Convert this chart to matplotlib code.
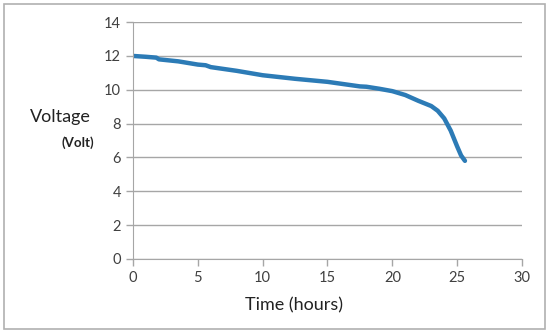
import matplotlib
matplotlib.use("Agg")
import matplotlib.pyplot as plt
from matplotlib.patches import Rectangle

# battery discharge readings
hours = [0, 1.0, 1.8, 2.0, 3.5, 5.0, 5.6, 6.0, 8.0, 10.0, 12.5, 15.0, 17.5,
         18.0, 19.0, 20.0, 21.0, 22.0, 23.0, 23.5, 24.0, 24.5, 25.0, 25.3, 25.6]
volts = [12.0, 11.95, 11.9, 11.8, 11.68, 11.49, 11.45, 11.34, 11.12, 10.86,
         10.65, 10.47, 10.2, 10.18, 10.06, 9.92, 9.69, 9.35, 9.04, 8.76,
         8.31, 7.59, 6.65, 6.12, 5.8]

x_ticks = [0, 5, 10, 15, 20, 25, 30]
y_ticks = [0, 2, 4, 6, 8, 10, 12, 14]

plt.rcParams['font.family'] = ['Lato', 'DejaVu Sans']

fig = plt.figure(figsize=(5.5, 3.35), dpi=100)
ax = fig.add_axes([0.2418, 0.2269, 0.7073, 0.7071])

ax.plot(hours, volts, color='#2c7bb6', lw=3.2, solid_capstyle='round')

ax.set_xlim(0, 30)
ax.set_ylim(0, 14)
ax.set_xticks(x_ticks)
ax.set_yticks(y_ticks)
ax.yaxis.grid(True, color='#a6a6a6', lw=1.0)
ax.set_axisbelow(True)
for side in ('top', 'right'):
    ax.spines[side].set_visible(False)
for side in ('left', 'bottom'):
    ax.spines[side].set_color('#a6a6a6')
ax.tick_params(colors='#a6a6a6', labelcolor='#404040', labelsize=10.5,
               length=5, width=1)
ax.tick_params(axis='x', pad=4)

fig.text(0.055, 0.65, 'Voltage', fontsize=13, color='#222222', va='center')
fig.text(0.111, 0.575, '(Volt)', fontsize=9.5, fontweight='bold',
         color='#222222', va='center')
fig.text(0.534, 0.087, 'Time (hours)', fontsize=13, color='#222222',
         ha='center', va='center')

# outer chart frame
fig.patches.append(Rectangle((4 / 550, 6 / 335), 541 / 550, 325 / 335,
                             transform=fig.transFigure, fill=False,
                             edgecolor='#b0b0b0', lw=1.2))

fig.savefig('out.png', dpi=100)
